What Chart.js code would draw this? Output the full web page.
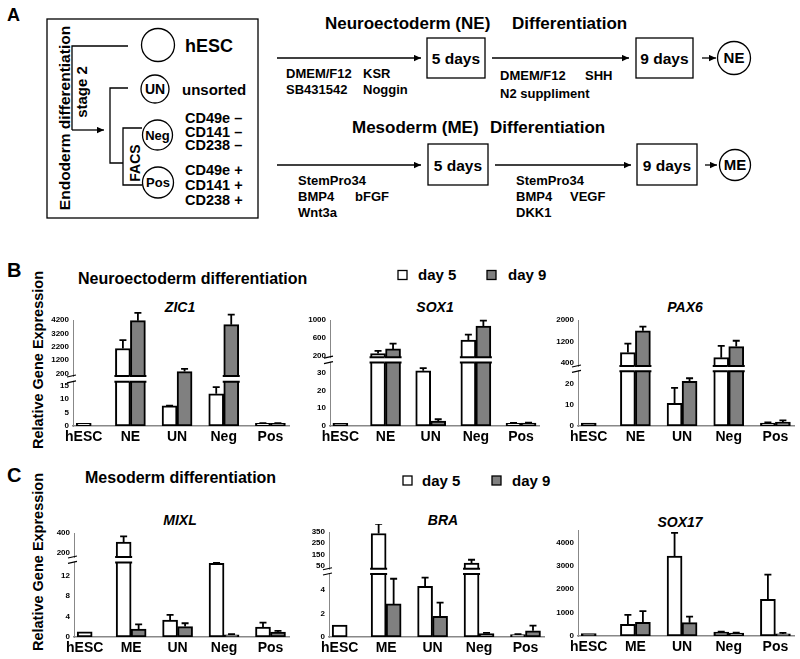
<!DOCTYPE html>
<html>
<head>
<meta charset="utf-8">
<title>Neuroectoderm and mesoderm differentiation</title>
<script src="https://cdn.jsdelivr.net/npm/chart.js"></script>
<style>
  body { margin: 0; background: #fff; }
  #page { position: relative; width: 800px; height: 659px; overflow: hidden; background: #fff; }
  #page svg { position: absolute; left: 0; top: 0; }
  #page canvas { position: absolute; }
</style>
</head>
<body>
<div id="page">
<svg width="800" height="659" font-family="'Liberation Sans', Arial, sans-serif" font-weight="bold">
  <defs>
    <marker id="head" viewBox="0 0 10 10" refX="10" refY="5" markerWidth="8" markerHeight="7" markerUnits="userSpaceOnUse" orient="auto">
      <path d="M0,0.5 L10,5 L0,9.5 z" fill="#000" stroke="none"/>
    </marker>
  </defs>
  <g fill="none" stroke="#000" stroke-width="1.3">
    <rect x="47" y="19" width="211" height="199"/>
    <path d="M128,46 H72 V130"/>
    <path d="M72,130 H104" marker-end="url(#head)"/>
    <path d="M128,88 H110 V163 H123"/>
    <path d="M142,128 H123 V185 H142"/>
    <circle cx="158" cy="45" r="16.5"/>
    <circle cx="155" cy="89" r="14"/>
    <circle cx="157.5" cy="135" r="15"/>
    <circle cx="158" cy="182.5" r="15.5"/>
    <path d="M277,58 H421" marker-end="url(#head)"/>
    <rect x="427" y="38" width="58" height="40"/>
    <path d="M492,58 H629" marker-end="url(#head)"/>
    <rect x="636" y="38" width="57" height="40"/>
    <path d="M702,58 H716" marker-end="url(#head)"/>
    <circle cx="734" cy="58" r="16.5"/>
    <path d="M277,165 H421" marker-end="url(#head)"/>
    <rect x="428" y="144" width="60" height="41"/>
    <path d="M495,165 H631" marker-end="url(#head)"/>
    <rect x="637" y="144" width="60" height="41"/>
    <path d="M705,165 H717" marker-end="url(#head)"/>
    <circle cx="735" cy="165" r="15.5"/>
  </g>
  <g fill="#000">
    <text x="7" y="21" font-size="18">A</text>
    <text transform="translate(70,118) rotate(-90)" text-anchor="middle" font-size="15.5">Endoderm differentiation</text>
    <text transform="translate(86.5,92) rotate(-90)" text-anchor="middle" font-size="15">stage 2</text>
    <text transform="translate(140,163) rotate(-90)" text-anchor="middle" font-size="14">FACS</text>
    <text x="185" y="51.5" font-size="18">hESC</text>
    <text x="155" y="94" font-size="14" text-anchor="middle">UN</text>
    <text x="182" y="94.5" font-size="15">unsorted</text>
    <text x="157.5" y="139.7" font-size="13" text-anchor="middle">Neg</text>
    <text x="158" y="187.2" font-size="13" text-anchor="middle">Pos</text>
    <text x="185" y="123.3" font-size="14.5">CD49e –</text>
    <text x="185" y="137" font-size="14.5">CD141 –</text>
    <text x="185" y="150.3" font-size="14.5">CD238 –</text>
    <text x="185" y="175.3" font-size="14.5">CD49e +</text>
    <text x="185" y="190.3" font-size="14.5">CD141 +</text>
    <text x="185" y="205.3" font-size="14.5">CD238 +</text>

    <text x="325" y="29" font-size="17">Neuroectoderm (NE)</text>
    <text x="512" y="29" font-size="17">Differentiation</text>
    <text x="456" y="63.7" font-size="15.5" text-anchor="middle">5 days</text>
    <text x="664.5" y="63.7" font-size="15.5" text-anchor="middle">9 days</text>
    <text x="734" y="63.4" font-size="15" text-anchor="middle">NE</text>
    <text x="286" y="78" font-size="13">DMEM/F12</text>
    <text x="363" y="78" font-size="13">KSR</text>
    <text x="286" y="94" font-size="13">SB431542</text>
    <text x="363" y="94" font-size="13">Noggin</text>
    <text x="500" y="79.7" font-size="13">DMEM/F12</text>
    <text x="585" y="79.7" font-size="13">SHH</text>
    <text x="500" y="98" font-size="13">N2 suppliment</text>

    <text x="352" y="133" font-size="17">Mesoderm (ME)</text>
    <text x="490" y="133" font-size="17">Differentiation</text>
    <text x="458" y="170.5" font-size="15.5" text-anchor="middle">5 days</text>
    <text x="667" y="170.5" font-size="15.5" text-anchor="middle">9 days</text>
    <text x="735" y="170.4" font-size="15" text-anchor="middle">ME</text>
    <text x="298" y="184.7" font-size="13">StemPro34</text>
    <text x="298" y="200.7" font-size="13">BMP4</text>
    <text x="355" y="200.7" font-size="13">bFGF</text>
    <text x="298" y="216.7" font-size="13">Wnt3a</text>
    <text x="516" y="184.7" font-size="13">StemPro34</text>
    <text x="516" y="200.7" font-size="13">BMP4</text>
    <text x="570" y="200.7" font-size="13">VEGF</text>
    <text x="516" y="216.7" font-size="13">DKK1</text>

    <text x="7" y="277" font-size="20">B</text>
    <text x="78" y="283.7" font-size="16">Neuroectoderm differentiation</text>
    <text x="418" y="280.4" font-size="15">day 5</text>
    <text x="508" y="280.4" font-size="15">day 9</text>
    <text transform="translate(42.5,360) rotate(-90)" text-anchor="middle" font-size="14.5">Relative Gene Expression</text>
    <text x="180" y="312" font-size="14" font-style="italic" text-anchor="middle">ZIC1</text>
    <text x="435" y="312" font-size="14" font-style="italic" text-anchor="middle">SOX1</text>
    <text x="685" y="312" font-size="14" font-style="italic" text-anchor="middle">PAX6</text>

    <text x="7" y="482" font-size="20">C</text>
    <text x="85" y="482.7" font-size="16">Mesoderm differentiation</text>
    <text x="422" y="486" font-size="15">day 5</text>
    <text x="512" y="486" font-size="15">day 9</text>
    <text transform="translate(42.5,562) rotate(-90)" text-anchor="middle" font-size="14.5">Relative Gene Expression</text>
    <text x="180" y="525" font-size="14" font-style="italic" text-anchor="middle">MIXL</text>
    <text x="443" y="525" font-size="14" font-style="italic" text-anchor="middle">BRA</text>
    <text x="680" y="527" font-size="14" font-style="italic" text-anchor="middle">SOX17</text>
  </g>
  <g stroke="#000" stroke-width="1.3">
    <rect x="398" y="270.5" width="9" height="9" fill="#fff"/>
    <rect x="487" y="270.5" width="9" height="9" fill="#808080"/>
    <rect x="403" y="476" width="9" height="9" fill="#fff"/>
    <rect x="492" y="476" width="9" height="9" fill="#808080"/>
  </g>
</svg>
<canvas id="zic1"></canvas>
<canvas id="sox1"></canvas>
<canvas id="pax6"></canvas>
<canvas id="mixl"></canvas>
<canvas id="bra"></canvas>
<canvas id="sox17"></canvas>
</div>
<script>
// categories
const catsB = ['hESC', 'NE', 'UN', 'Neg', 'Pos'];
const catsC = ['hESC', 'ME', 'UN', 'Neg', 'Pos'];

// neuroectoderm (B)
const zic1Day5 = [1, 2060, 7.5, 12, 1];
const zic1Day5Err = [0, 630, 0.1, 2.5, 0.1];
const zic1Day9 = [null, 4150, 330, 3850, 1];
const zic1Day9Err = [0, 580, 200, 750, 0.1];
const zic1TicksLow = [0, 5, 10, 15];
const zic1TicksHigh = [200, 1200, 2200, 3200, 4200];

const sox1Day5 = [1.5, 245, 31, 548, 1.5];
const sox1Day5Err = [0, 60, 1.5, 125, 0.3];
const sox1Day9 = [null, 351, 2.7, 864, 1.6];
const sox1Day9Err = [0, 120, 1.1, 120, 0.3];
const sox1TicksLow = [0, 10, 20, 30];
const sox1TicksHigh = [200, 600, 1000];

const pax6Day5 = [1.4, 777, 10.7, 588, 1.4];
const pax6Day5Err = [0, 340, 7.4, 440, 0.3];
const pax6Day9 = [null, 1595, 21.1, 1002, 1.8];
const pax6Day9Err = [0, 160, 1.5, 220, 0.9];
const pax6TicksLow = [0, 10, 20];
const pax6TicksHigh = [400, 1200, 2000];

// mesoderm (C)
const mixlDay5 = [1, 310, 3.33, 14.4, 1.93];
const mixlDay5Err = [0, 56, 1.0, 0.1, 0.9];
const mixlDay9 = [null, 1.54, 2.04, 0.44, 0.96];
const mixlDay9Err = [0, 0.95, 0.65, 0.12, 0.25];
const mixlTicksLow = [0, 4, 8, 12];
const mixlTicksHigh = [200, 400];

const braDay5 = [1, 337, 4.28, 74, 0.2];
const braDay5Err = [0, 86, 0.75, 29, 0.05];
const braDay9 = [null, 2.8, 1.75, 0.28, 0.53];
const braDay9Err = [0, 2.13, 1.15, 0.07, 0.43];
const braTicksLow = [0, 2, 4];
const braTicksHigh = [50, 150, 250, 350];

const sox17Day5 = [100, 500, 3420, 170, 1570];
const sox17Day5Err = [0, 400, 990, 20, 1050];
const sox17Day9 = [null, 585, 570, 120, 90];
const sox17Day9Err = [0, 480, 255, 25, 40];
const sox17Ticks = [0, 1000, 2000, 3000, 4000];

// broken axes: lower part 0..lowTop fills f1 of the height, upper part starts at f2
const BREAKS = {
  zic1: {lowTop: 16.5, highBottom: 0, highTop: 4200, f1: 0.417, f2: 0.472, cats: ['NE', 'Neg']},
  sox1: {lowTop: 35.6, highBottom: 164, highTop: 1000, f1: 0.598, f2: 0.649, cats: ['NE', 'Neg']},
  pax6: {lowTop: 25.9, highBottom: 275, highTop: 2000, f1: 0.516, f2: 0.566, cats: ['NE', 'Neg']},
  mixl: {lowTop: 14.6, highBottom: 160, highTop: 400, f1: 0.717, f2: 0.769, cats: ['ME']},
  bra: {lowTop: 5.33, highBottom: 23, highTop: 350, f1: 0.6, f2: 0.65, cats: ['ME', 'Neg']}
};

// axis x, plot top, plot bottom, plot right (page pixels)
const GEOM = {
  zic1: [73, 320, 426, 290],
  sox1: [330, 320, 426, 540],
  pax6: [578, 320, 426, 795],
  mixl: [74, 533, 637, 290],
  bra: [329, 532, 637, 545],
  sox17: [578, 530, 636, 795]
};
const YW = 34, PT = 8, XH = 24;
const PAD_L = 0.23, PAD_R = 0.42;
const GRAY = '#808080';

Chart.defaults.font.family = "'Liberation Sans', Arial, sans-serif";

class PadCategory extends Chart.CategoryScale {
  getPixelForValue(value) {
    if (typeof value !== 'number') value = this.parse(value);
    if (value === null || value === undefined) return NaN;
    return this.getPixelForDecimal((value - this.min + PAD_L) / (this.max - this.min + PAD_L + PAD_R));
  }
}
PadCategory.id = 'padcat';
PadCategory.defaults = Chart.CategoryScale.defaults;

class BrokenScale extends Chart.LinearScale {
  getPixelForValue(value) {
    const b = BREAKS[this.chart.canvas.id];
    if (!b || value === null || isNaN(value)) return super.getPixelForValue(value);
    let d;
    if (value <= b.lowTop) d = value / b.lowTop * b.f1;
    else d = b.f2 + Math.max(0, value - b.highBottom) / (b.highTop - b.highBottom) * (1 - b.f2);
    return this.getPixelForDecimal(d);
  }
}
BrokenScale.id = 'broken';
BrokenScale.defaults = Chart.LinearScale.defaults;

Chart.register(PadCategory, BrokenScale);

// break bands, axis break and error bars
const marks = {
  id: 'marks',
  afterDatasetsDraw(chart) {
    const ctx = chart.ctx, y = chart.scales.y, area = chart.chartArea;
    const b = BREAKS[chart.canvas.id];
    ctx.save();
    if (b) {
      const yLo = y.getPixelForDecimal(b.f1), yHi = y.getPixelForDecimal(b.f2);
      chart.data.datasets.forEach((ds, di) => {
        chart.getDatasetMeta(di).data.forEach((bar, i) => {
          const v = ds.data[i];
          if (v == null || v <= b.lowTop || !b.cats.includes(chart.data.labels[i])) return;
          const x0 = bar.x - bar.width / 2 - 1, x1 = bar.x + bar.width / 2 + 1;
          ctx.fillStyle = '#fff';
          ctx.fillRect(x0, yHi, x1 - x0, yLo - yHi);
          ctx.strokeStyle = '#000';
          ctx.lineWidth = 2;
          ctx.beginPath();
          ctx.moveTo(x0, yLo); ctx.lineTo(x1, yLo);
          ctx.moveTo(x0, yHi); ctx.lineTo(x1, yHi);
          ctx.stroke();
        });
      });
      ctx.fillStyle = '#fff';
      ctx.fillRect(area.left - 2, yHi + 1, 4, yLo - yHi - 2);
      ctx.strokeStyle = '#000';
      ctx.lineWidth = 1.2;
      ctx.beginPath();
      ctx.moveTo(area.left - 6, yLo + 1); ctx.lineTo(area.left + 3, yLo - 1);
      ctx.moveTo(area.left - 6, yHi + 1); ctx.lineTo(area.left + 3, yHi - 1);
      ctx.stroke();
    }
    ctx.strokeStyle = '#000';
    ctx.lineWidth = 1.8;
    chart.data.datasets.forEach((ds, di) => {
      chart.getDatasetMeta(di).data.forEach((bar, i) => {
        const v = ds.data[i], e = ds.errors[i];
        if (v == null || !e) return;
        const yTop = y.getPixelForValue(v + e);
        ctx.beginPath();
        ctx.moveTo(bar.x, bar.y); ctx.lineTo(bar.x, yTop);
        ctx.moveTo(bar.x - 3.5, yTop); ctx.lineTo(bar.x + 3.5, yTop);
        ctx.stroke();
      });
    });
    ctx.restore();
  }
};

const CHARTS = [
  {id: 'zic1', cats: catsB, d5: zic1Day5, e5: zic1Day5Err, d9: zic1Day9, e9: zic1Day9Err, ticks: zic1TicksLow.concat(zic1TicksHigh), hesc: '#fff'},
  {id: 'sox1', cats: catsB, d5: sox1Day5, e5: sox1Day5Err, d9: sox1Day9, e9: sox1Day9Err, ticks: sox1TicksLow.concat(sox1TicksHigh), hesc: GRAY},
  {id: 'pax6', cats: catsB, d5: pax6Day5, e5: pax6Day5Err, d9: pax6Day9, e9: pax6Day9Err, ticks: pax6TicksLow.concat(pax6TicksHigh), hesc: GRAY},
  {id: 'mixl', cats: catsC, d5: mixlDay5, e5: mixlDay5Err, d9: mixlDay9, e9: mixlDay9Err, ticks: mixlTicksLow.concat(mixlTicksHigh), hesc: '#fff'},
  {id: 'bra', cats: catsC, d5: braDay5, e5: braDay5Err, d9: braDay9, e9: braDay9Err, ticks: braTicksLow.concat(braTicksHigh), hesc: '#fff'},
  {id: 'sox17', cats: catsC, d5: sox17Day5, e5: sox17Day5Err, d9: sox17Day9, e9: sox17Day9Err, ticks: sox17Ticks, hesc: '#606060', max: 4530}
];

CHARTS.forEach(c => {
  const [ax, top, bot, right] = GEOM[c.id];
  const cv = document.getElementById(c.id);
  cv.width = right - ax + YW;
  cv.height = bot - top + PT + XH;
  cv.style.left = (ax - YW) + 'px';
  cv.style.top = (top - PT) + 'px';
  const b = BREAKS[c.id];
  const barStyle = {borderColor: '#000', borderWidth: 2, borderSkipped: false, barThickness: 15, skipNull: true};

  new Chart(cv, {
    type: 'bar',
    data: {
      labels: c.cats,
      datasets: [
        Object.assign({label: 'day 5', data: c.d5, errors: c.e5,
          backgroundColor: c.cats.map((_, i) => i === 0 ? c.hesc : '#fff')}, barStyle),
        Object.assign({label: 'day 9', data: c.d9, errors: c.e9, backgroundColor: GRAY}, barStyle)
      ]
    },
    options: {
      responsive: false,
      animation: false,
      events: [],
      layout: {padding: {top: PT, left: 0, right: 0, bottom: 0}},
      plugins: {legend: {display: false}, tooltip: {enabled: false}},
      scales: {
        x: {
          type: 'padcat',
          grid: {display: false, drawTicks: false},
          border: {color: '#888', width: 1.5},
          ticks: {font: {size: 14, weight: 'bold'}, color: '#000', padding: 3, maxRotation: 0, autoSkip: false},
          afterFit: s => { s.height = XH; s.paddingLeft = 0; s.paddingRight = 0; }
        },
        y: {
          type: 'broken',
          min: 0,
          max: b ? b.highTop : c.max,
          bounds: 'data',
          grid: {display: false, drawTicks: false},
          border: {color: '#888', width: 1},
          ticks: {font: {size: 8, weight: 'bold'}, color: '#000', padding: 4, autoSkip: false, callback: v => String(v)},
          afterBuildTicks: s => { s.ticks = c.ticks.map(v => ({value: v})); },
          afterFit: s => { s.width = YW; s.paddingTop = 0; s.paddingBottom = 0; }
        }
      }
    },
    plugins: [marks]
  });
});
</script>
</body>
</html>
